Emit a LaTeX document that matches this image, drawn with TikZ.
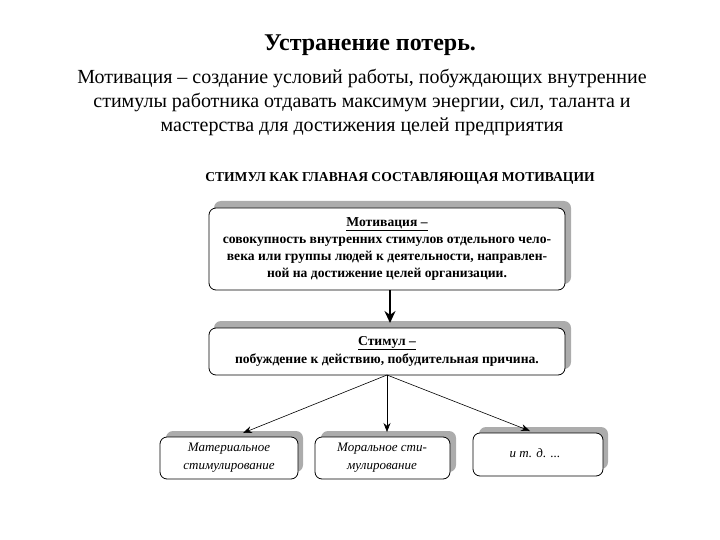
\documentclass[tikz,border=0pt]{standalone}
\usepackage{fontspec}
\setmainfont{Liberation Serif}
\usetikzlibrary{arrows.meta}
\tikzset{
 bx/.style={draw=black,line width=0.8pt,rounded corners=7pt,fill=white,align=center,inner sep=3pt},
 shd/.style={fill=gray!65,rounded corners=7pt},
 arr/.style={-{Stealth[length=9pt,width=7pt]},line width=0.6pt}
}
\begin{document}
\begin{tikzpicture}[x=1pt,y=-1pt]
\useasboundingbox (0,0) rectangle (720,540);
\node[font=\bfseries\fontsize{24}{26}\selectfont] (t) at (370,45) {Устранение потерь.};
\node[font=\fontsize{20}{24}\selectfont,align=center] (b) at (362,102) {Мотивация – создание условий работы, побуждающих внутренние\\стимулы работника отдавать максимум энергии, сил, таланта и\\мастерства для достижения целей предприятия};
\node[font=\bfseries\fontsize{13.6}{15}\selectfont] (h) at (400,178) {СТИМУЛ КАК ГЛАВНАЯ СОСТАВЛЯЮЩАЯ МОТИВАЦИИ};
% box 1
\fill[shd] (214,201) rectangle (571,284);
\draw[bx] (209,208) rectangle (565,290);
\node[font=\bfseries\fontsize{13.6}{17}\selectfont,align=center] (m) at (387,249) {\underline{Мотивация –}\\совокупность внутренних стимулов отдельного чело-\\века или группы людей к деятельности, направлен-\\ной на достижение целей организации.};
\coordinate (m1) at (390,290);
% box 2
\fill[shd] (214,321) rectangle (571,369);
\draw[bx] (209,328) rectangle (565,375);
\node[font=\bfseries\fontsize{13.6}{18}\selectfont,align=center] (s) at (387,351) {\underline{Стимул –}\\побуждение к действию, побудительная причина.};
\coordinate (s1) at (390,323);
\draw[-{Stealth[length=12pt,width=11pt]},line width=1.8pt] (m1) -- (s1);
\coordinate (s2) at (387,375);
% bottom boxes
\fill[shd] (166,431) rectangle (303,472);
\draw[bx] (160,437) rectangle (298,479);
\node[font=\itshape\fontsize{13}{18}\selectfont,align=center] (a) at (229,458) {Материальное\\стимулирование};
\fill[shd] (321,431) rectangle (456,472);
\draw[bx] (315,437) rectangle (450,479);
\node[font=\itshape\fontsize{13}{18}\selectfont,align=center] (c) at (382,458) {Моральное сти-\\мулирование};
\fill[shd] (479,427) rectangle (608,469);
\draw[bx] (473,433) rectangle (603,476);
\node[font=\itshape\fontsize{13}{18}\selectfont] (d) at (535,453) {и т. д. ...};
\coordinate (a1) at (243,433);
\coordinate (c1) at (387,432);
\coordinate (d1) at (530,431);
\draw[arr] (s2) -- (a1);
\draw[arr] (s2) -- (c1);
\draw[arr] (s2) -- (d1);
\end{tikzpicture}
\end{document}
